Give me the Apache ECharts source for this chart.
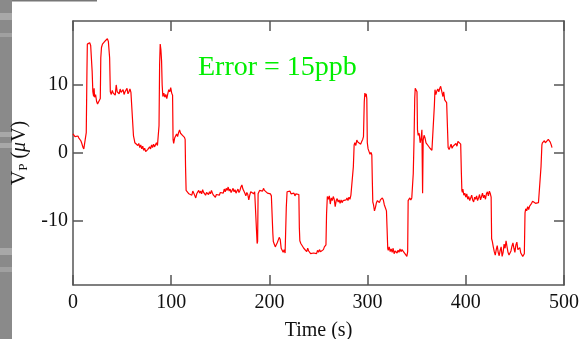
<!DOCTYPE html>
<html>
<head>
<meta charset="utf-8">
<script src="https://cdn.jsdelivr.net/npm/echarts@6/dist/echarts.min.js"></script>
<style>html,body{margin:0;padding:0;background:#fff;}#c{width:579px;height:339px;}</style>
</head>
<body>
<div id="c"></div>
<script>
const xTicks = [0, 100, 200, 300, 400, 500];
const yTicks = [-10, 0, 10];
const annotation = 'Error = 15ppb';
const timeS = [
0,1,2,3,4,5,6,7,8,9,10,11,12,13,13.5,14.2,14.6,15,16,17,18,18.8,19.5,20.2,21,21.5,22,23,24,25,26,27,27.8,28.3,29,30,31,32,33,34,35,36,36.8,37.3,38,39,40,41,42,43,44,45,46,47,48,49,50,51,52,53,54,55,56,57,58,59,60,61,61.6,62.5,63,64,65,66,67,68,69,70,71,72,73,74,75,76,77,78,79,80,81,82,83,84,85,86,87,87.6,88.2,88.8,89.5,90.2,90.8,91.5,92.5,93.5,94.5,95.5,96.5,97.5,98.5,99.5,100.5,101.4,101.9,102.5,103.5,104.5,105.5,106.5,107.5,108.5,109.5,110.5,111.5,112.5,113.5,114.2,114.6,115.2,116,117,118,119,120,121,122,123,124,125,126,127,128,129,130,131,132,133,134,135,136,137,138,139,140,141,142,143,144,145,146,147,148,149,150,151,152,153,154,155,156,157,158,159,160,161,162,163,164,165,166,167,168,169,170,171,172,173,174,175,176,177,178,179,180,181,182,183,184,185,186,187,187.5,188,188.5,189,190,191,192,193,194,195,196,197,198,199,200,201,202,203,203.5,204,205,206,207,208,209,210,211,212,213,214,215,216,216.7,217.2,218,219,220,221,222,223,224,225,226,227,228,229,230,230.5,231,232,233,234,235,236,237,238,239,240,241,242,243,244,245,246,247,248,249,250,251,252,253,254,255,256,257,257.6,258.2,259,260,261,262,263,264,265,266,267,268,269,270,271,272,273,274,275,276,277,278,279,280,281,282,283,284,284.6,285.5,286.3,287,288,289,290,291,292,293,294,295,295.8,296.6,297.2,298,298.6,299.2,299.7,300.5,301.5,302.5,303.5,304.3,304.8,305.3,306,307,308,309,310,311,312,313,314,315,316,317,318,319.2,319.8,320.5,321,322,323,324,325,326,327,328,329,330,331,332,333,334,335,336,337,338,339,340,340.8,341.3,342,343,344,345,345.8,346.5,347.3,348,348.5,349,349.7,350.3,350.8,351.5,352.5,353.5,354.5,355.3,356,356.6,357.5,358.5,359.5,360.5,361.5,362.5,363.5,364.5,365.5,366.5,367.3,368,368.6,369.5,370.5,371.5,372.5,373.5,374.4,375.3,376,376.7,377.5,378.5,379.5,380.5,381.5,382,383,384,385,386,387,388,389,390,391,392,393,394,394.8,395.5,396,396.5,397,398,399,400,401,402,403,404,405,406,407,408,409,410,411,412,413,414,415,416,417,418,419,420,421,422,423,424,425,425.8,426.3,427,428,429,430,431,432,433,434,435,436,437,438,439,440,441,442,443,444,445,446,447,448,449,450,451,452,453,454,455,456,457,458,459,459.6,460.3,461,462,463,464,465,466,467,468,469,470,471,472,473,474,475,475.8,476.6,477.5,478,479,480,481,482,483,484,485,486,487,487.8
];
const vpMicroV = [
2.8,2.9,2.4,2.6,2.3,2.5,2.2,2.4,1.8,1.4,0.9,0.6,0.5,0.8,3.0,12,16.0,16.1,15.9,16.2,15.8,15.6,12,9.0,8.3,9.5,8.2,8.6,7.6,7.2,7.5,7.3,8.0,14.0,15.5,16.0,16.2,16.1,16.5,16.3,16.8,16.4,16.6,14.0,9.0,8.6,9.2,8.8,9.0,8.5,10.0,9.0,9.2,8.7,9.4,8.9,8.8,9.3,8.6,9.0,8.8,9.5,8.7,9.0,9.4,8.9,9.1,8.8,2.5,1.9,1.5,1.3,1.6,1.1,1.4,0.8,1.2,0.6,1.0,0.4,0.7,0.2,0.0,0.5,0.3,0.9,0.6,1.2,0.8,1.3,0.9,1.0,1.5,1.1,1.3,4,13,16.0,15.2,13.5,10,8.3,8.8,8.2,8.6,8.0,8.7,9.3,9.0,9.6,8.8,8.5,2.0,1.4,2.2,2.0,2.8,2.4,3.0,3.4,2.9,3.1,2.6,2.7,2.3,2.0,-2,-5.5,-5.7,-5.4,-6.0,-5.8,-5.9,-6.2,-5.6,-5.9,-6.1,-6.6,-6.0,-5.8,-5.5,-5.9,-5.6,-6.0,-5.4,-5.8,-5.7,-6.2,-5.8,-5.9,-6.1,-5.7,-6.0,-5.5,-5.9,-6.2,-6.0,-6.5,-6.1,-6.3,-6.0,-6.2,-5.8,-6.0,-5.6,-5.9,-5.3,-5.7,-5.2,-5.5,-5.0,-5.6,-5.3,-5.8,-5.5,-5.2,-5.7,-5.4,-5.9,-5.6,-5.3,-5.8,-5.5,-5.0,-4.7,-5.3,-5.6,-5.9,-6.3,-5.8,-6.1,-6.9,-6.2,-5.7,-5.9,-5.6,-6.0,-5.7,-5.9,-5.8,-13.3,-13.0,-6.0,-5.9,-5.5,-5.7,-5.3,-5.6,-5.2,-5.5,-5.7,-5.4,-5.9,-6.1,-5.8,-6.0,-6.3,-6.2,-11.8,-13.0,-13.4,-13.8,-13.5,-13.2,-12.8,-12.4,-12.7,-14.0,-14.3,-14.6,-14.2,-14.7,-14.6,-8,-5.7,-5.5,-5.9,-5.6,-6.0,-5.8,-6.1,-5.9,-6.3,-6.0,-6.2,-6.0,-6.1,-11,-12.9,-13.3,-13.5,-13.3,-14.0,-13.8,-14.2,-14.5,-14.0,-14.4,-14.3,-14.8,-14.6,-15.0,-14.7,-14.9,-14.5,-14.8,-14.3,-14.6,-14.2,-14.5,-14.3,-14.6,-14.2,-13.8,-13.7,-13.5,-9,-6.4,-6.8,-6.3,-7.5,-6.6,-7.0,-6.4,-6.8,-7.9,-7.0,-6.7,-7.2,-6.9,-7.4,-6.9,-7.3,-7.0,-6.8,-7.1,-6.9,-6.6,-7.0,-6.5,-6.8,-6.2,-6.0,-6.4,-2,1.2,1.5,1.1,1.9,1.6,1.4,1.8,1.3,1.7,2.0,2.4,7.5,8.8,8.3,8.7,8.0,1.5,0.6,0.2,-0.2,0.1,-0.3,-4,-7.2,-7.6,-8.5,-8.0,-7.3,-7.0,-6.8,-7.3,-6.9,-7.1,-6.6,-6.9,-7.6,-7.8,-8.5,-11,-14,-14.3,-13.8,-14.5,-14.1,-14.6,-14.0,-14.8,-14.4,-14.2,-14.7,-14.3,-14.6,-14.1,-14.5,-14.2,-14.0,-14.4,-14.8,-14.6,-15.2,-14.5,-7.0,-6.8,-6.6,-6.9,-6.6,-6.4,-3.0,2.0,8.0,9.5,9.3,9.6,9.0,3.4,2.6,2.9,1.5,2.2,3.4,-5.9,1.9,2.6,2.2,1.5,1.6,1.1,0.9,0.7,0.5,0.4,0.6,0.4,7.0,9.3,8.6,9.1,9.4,9.0,9.5,9.8,9.2,9.0,8.3,9.0,7.8,7.6,7.4,7.3,0.8,0.5,0.9,1.3,0.7,1.0,1.2,0.9,1.4,1.0,1.7,1.9,1.5,1.3,-3,-5.5,-5.8,-5.3,-6.2,-5.9,-6.5,-6.0,-6.8,-6.4,-7.0,-6.6,-6.2,-6.9,-7.2,-6.5,-6.8,-6.3,-7.0,-6.6,-6.1,-6.9,-6.4,-5.9,-6.6,-6.2,-6.8,-6.0,-5.7,-6.3,-5.6,-6.0,-6.5,-12.6,-13.0,-13.8,-14.5,-15.0,-14.2,-13.6,-14.6,-15.1,-14.3,-13.8,-15.2,-14.6,-13.4,-14.0,-12.9,-13.8,-14.6,-15.0,-15.2,-14.4,-13.7,-13.2,-14.0,-14.6,-13.5,-13.1,-14.2,-14.4,-13.9,-14.7,-14.9,-15.2,-15.4,-14.8,-8.8,-8.2,-8.5,-7.9,-8.3,-7.8,-8.0,-7.4,-7.1,-7.3,-7.0,-7.4,-7.2,-7.5,-7.3,-7.4,-7.2,-2,1.2,1.5,1.3,1.8,1.5,1.7,1.4,2.0,2.2,1.6,1.2,0.8
];
const seriesData = timeS.map((t, i) => [t, vpMicroV[i]]);

const chart = echarts.init(document.getElementById('c'), null, {renderer: 'canvas'});
const serif = '"Liberation Serif", "DejaVu Serif", serif';
const axisColor = '#555';
const xMin = 0, xMax = 500, yMin = -19.4, yMax = 19.4;
const lineCommon = {show: true, onZero: false, lineStyle: {color: axisColor, width: 1.5}};
const tickCommon = {show: true, inside: true, length: 10, lineStyle: {color: axisColor, width: 1.5}};
chart.setOption({
  animation: false,
  backgroundColor: '#fff',
  grid: {left: 73, right: 15, top: 21, bottom: 54, containLabel: false, outerBoundsMode: 'none'},
  xAxis: [{
    type: 'value', min: xMin, max: xMax, interval: 100, position: 'bottom',
    axisLine: lineCommon,
    axisTick: tickCommon,
    splitLine: {show: false},
    axisLabel: {fontFamily: serif, fontSize: 20, color: '#111', margin: 8},
    name: 'Time (s)', nameLocation: 'middle', nameGap: 36,
    nameTextStyle: {fontFamily: serif, fontSize: 20, color: '#111'}
  }, {
    type: 'value', min: xMin, max: xMax, interval: 100, position: 'top',
    axisLine: lineCommon,
    axisTick: tickCommon, axisLabel: {show: false}, splitLine: {show: false}
  }],
  yAxis: [{
    type: 'value', min: yMin, max: yMax, position: 'left',
    axisLine: lineCommon,
    axisTick: Object.assign({customValues: yTicks}, tickCommon),
    splitLine: {show: false},
    axisLabel: {fontFamily: serif, fontSize: 20, color: '#111', margin: 5, customValues: yTicks},
    name: 'V{sub|P} ({it|μ}V)', nameLocation: 'middle', nameGap: 42, nameRotate: 90,
    nameTextStyle: {fontFamily: serif, fontSize: 20, color: '#111',
      rich: {
        sub: {fontFamily: serif, fontSize: 13, color: '#111', padding: [9, 0, 0, 0]},
        it: {fontFamily: serif, fontSize: 20, fontStyle: 'italic', color: '#111'}
      }}
  }, {
    type: 'value', min: yMin, max: yMax, position: 'right',
    axisLine: lineCommon,
    axisTick: Object.assign({customValues: yTicks}, tickCommon),
    axisLabel: {show: false}, splitLine: {show: false}
  }],
  series: [{
    type: 'line', xAxisIndex: 0, yAxisIndex: 0, data: seriesData,
    showSymbol: false, symbol: 'none',
    lineStyle: {color: '#ff0000', width: 1.2}
  }],
  graphic: [
    {type: 'rect', left: 0, top: 0, shape: {width: 12, height: 339}, style: {fill: '#8a8a8a'}, silent: true},
    {type: 'rect', left: 0, top: 13, shape: {width: 12, height: 7}, style: {fill: '#a8a8a8'}, silent: true},
    {type: 'rect', left: 0, top: 33, shape: {width: 12, height: 4}, style: {fill: '#a0a0a0'}, silent: true},
    {type: 'rect', left: 0, top: 132, shape: {width: 12, height: 5}, style: {fill: '#a8a8a8'}, silent: true},
    {type: 'rect', left: 0, top: 143, shape: {width: 12, height: 5}, style: {fill: '#a8a8a8'}, silent: true},
    {type: 'rect', left: 0, top: 248, shape: {width: 12, height: 7}, style: {fill: '#a8a8a8'}, silent: true},
    {type: 'rect', left: 0, top: 267, shape: {width: 12, height: 5}, style: {fill: '#a0a0a0'}, silent: true},
    {type: 'rect', left: 12, top: 0, shape: {width: 85, height: 1.5}, style: {fill: '#777'}, silent: true},
    {type: 'text', left: 198, top: 54, style: {text: annotation, fontFamily: serif, fontSize: 28, fill: '#00ee00'}, silent: true}
  ]
});
</script>
</body>
</html>
